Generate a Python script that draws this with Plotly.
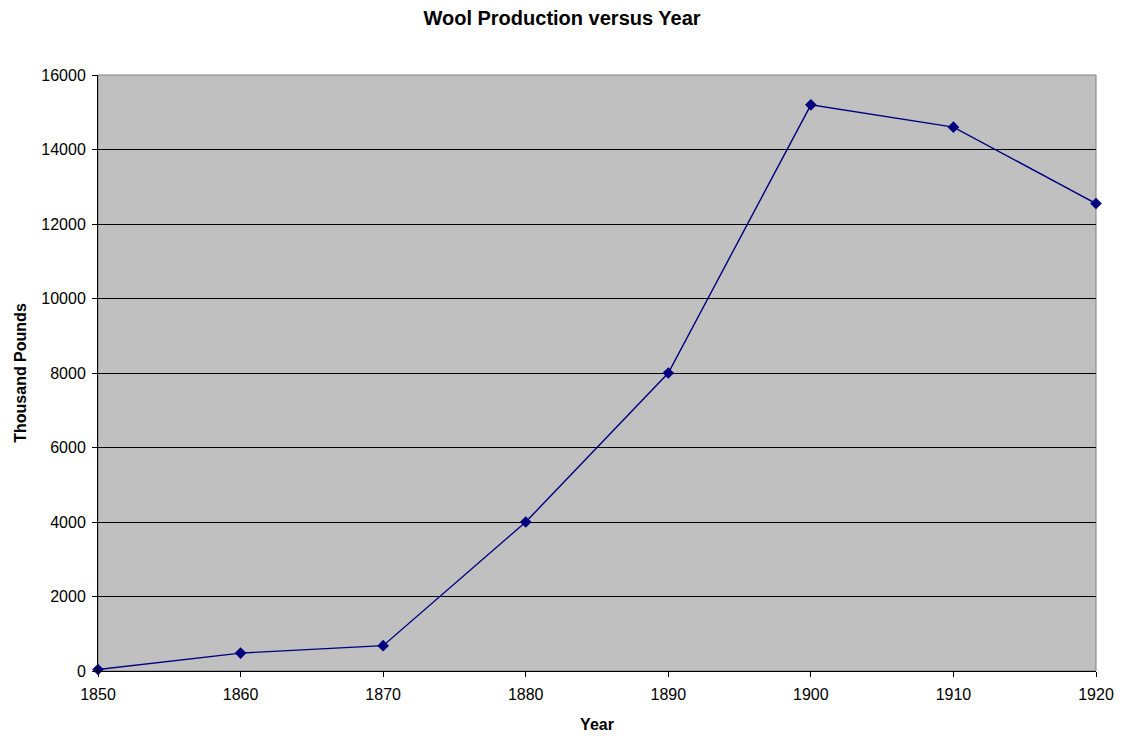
import plotly.graph_objects as go

years = [1850, 1860, 1870, 1880, 1890, 1900, 1910, 1920]
wool = [40, 480, 680, 4000, 8000, 15200, 14600, 12550]
y_ticks = [0, 2000, 4000, 6000, 8000, 10000, 12000, 14000, 16000]

font = "Liberation Sans, Arial, sans-serif"

fig = go.Figure()
fig.add_trace(go.Scatter(
    x=years, y=wool, mode="lines+markers",
    line=dict(color="#000080", width=1.4),
    marker=dict(symbol="diamond", size=9, color="#000080"),
    showlegend=False, cliponaxis=False,
))

fig.update_layout(
    width=1126, height=736,
    margin=dict(l=88, r=38, t=67, b=73),
    paper_bgcolor="white",
    plot_bgcolor="#C0C0C0",
    font=dict(family=font, size=16, color="black"),
    title=dict(text="<b>Wool Production versus Year</b>", x=554 / 1126, xanchor="center",
               xref="container", yref="container",
               y=1 - 10 / 736, yanchor="middle", font=dict(size=20, family=font)),
    xaxis=dict(
        range=[1850, 1920], tickvals=years, ticks="outside", ticklen=5,
        tickcolor="black", showgrid=False, zeroline=False,
        showline=True, linecolor="black", linewidth=1, ticklabelstandoff=4,
        title=dict(text="<b>Year</b>", font=dict(size=16), standoff=16),
    ),
    yaxis=dict(
        range=[0, 16000], tickvals=y_ticks, tickformat="d", ticks="outside", ticklen=5,
        tickcolor="black", showgrid=True, gridcolor="black", gridwidth=1,
        zeroline=False, showline=True, linecolor="black", linewidth=1, ticklabelstandoff=3,
        title=dict(text="<b>Thousand Pounds</b>", font=dict(size=16), standoff=10),
    ),
    shapes=[dict(type="rect", xref="paper", yref="paper", x0=0, y0=0, x1=1, y1=1,
                 line=dict(color="#808080", width=1), fillcolor="rgba(0,0,0,0)",
                 layer="below")],
)

fig.write_html("out.html")
